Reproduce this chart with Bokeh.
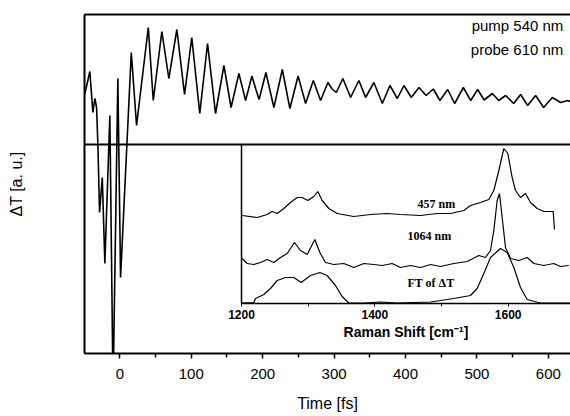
from bokeh.plotting import figure
from bokeh.layouts import column
from bokeh.models import Range1d, Span, Label, LinearAxis, FixedTicker
from bokeh.embed import file_html
from bokeh.resources import INLINE

# ---- main trace: transient transmission vs. delay ----
time_fs = [-49.5, -48.0, -42.0, -37.8, -35.0, -32.6, -30.8, -28.4, -24.6, -21.0, -14.0,
           -9.5, -2.8, 1.0, 16.0, 23.4, 39.8, 46.8, 58.8, 68.6, 79.8, 90.6, 100.7, 111.9,
           122.8, 134.0, 145.7, 155.7, 166.7, 176.1, 184.9, 190.1, 195.0, 204.5, 215.7,
           227.5, 238.1, 249.6, 260.1, 270.9, 281.1, 291.3, 297.2, 303.1, 312.3, 323.1,
           334.7, 344.1, 355.7, 367.5, 378.2, 388.5, 397.8, 408.1, 418.8, 428.9, 438.9,
           448.2, 459.0, 468.8, 481.0, 491.2, 501.0, 510.1, 521.6, 530.4, 540.2, 551.4,
           561.2, 571.0, 582.2, 593.4, 605.6, 617.2, 627.0, 631.2]
delta_t = [50, 54, 73, 32, 46, 37, 1, -68, -33, -119, 29,
           -246, 66, -133, 92, 19, 117, 44, 113, 66, 115, 50, 107, 31,
           101, 31, 79, 37, 71, 44, 68.5, 56, 45, 72, 37,
           75, 36, 68.5, 41, 64, 44, 62, 55.5, 52, 66, 47,
           64, 47, 62, 41, 59, 46, 59, 47, 57, 49, 55.5,
           44, 55, 41, 57, 44, 55, 44.5, 51, 44, 49, 41,
           50, 39, 49, 37, 47, 42, 44, 43]

time_ticks = [0, 100, 200, 300, 400, 500, 600]
time_minor = [-50, 50, 150, 250, 350, 450, 550]

# ---- inset: Raman spectra ----
w457 = [1201, 1223.5, 1238.5, 1246, 1253.5, 1263.5, 1273.5, 1283.5, 1291, 1299.5, 1308.5,
        1314.5, 1321, 1331, 1343.5, 1368.5, 1393.5, 1418.5, 1438.5, 1468.5, 1493.5, 1513.5,
        1533.5, 1543.5, 1558.5, 1571, 1578.5, 1586, 1593.5, 1599.5, 1606, 1611, 1618.5,
        1626, 1633.5, 1643.5, 1653.5, 1667.5, 1669.5]
v457 = [88, 86, 89, 92, 90, 95, 101, 106, 106, 103, 107,
        112, 103, 95, 90, 87, 89, 90, 89, 88, 90, 90,
        93, 98, 101, 104, 113, 133, 155, 150, 126, 113, 106,
        110, 101, 95, 92, 92, 74]

w1064 = [1201, 1208.5, 1218.5, 1228.5, 1238.5, 1248.5, 1258.5, 1268.5, 1279.5, 1288.5, 1298.5,
         1310, 1317.5, 1326, 1338.5, 1353.5, 1368.5, 1383.5, 1398.5, 1411, 1426, 1438.5,
         1453.5, 1468.5, 1483.5, 1498.5, 1518.5, 1538.5, 1556, 1566, 1573.5, 1578.5, 1583.5,
         1587, 1591, 1596, 1603.5, 1616, 1628.5, 1638.5, 1653.5, 1668.5, 1678.5, 1691]
v1064 = [45, 40, 39, 41, 44, 41, 46, 50, 61, 53, 49,
         64, 51, 41, 39, 40, 36, 40, 39, 38, 40, 36,
         38, 36, 39, 37, 40, 42, 48, 46, 53, 73, 103,
         110, 86, 56, 45, 43, 46, 40, 38, 40, 37, 38]

wft = [1201, 1218.5, 1221, 1233.5, 1243.5, 1253.5, 1266, 1278.5, 1289.5, 1303.5, 1317.5,
       1328.5, 1341, 1351, 1361, 1383.5, 1408.5, 1433.5, 1483.5, 1518.5, 1543.5, 1553.5,
       1563.5, 1573.5, 1588.5, 1598.5, 1608.5, 1618.5, 1628.5, 1648.5, 1693.5]
vft = [0.5, 1, 5, 9, 15, 23, 26, 26, 21, 28, 31,
       28, 18, 7, 0.5, 0.5, 1.5, 0.5, 1.5, 5, 8, 15,
       30, 46, 55, 51, 36, 16, 4, 0.5, 0.5]

raman_ticks = [1200, 1400, 1600]
raman_minor = [1300, 1500]

SANS = "Liberation Sans"
SERIF = "Liberation Serif"

# ---------------- main figure ----------------
p = figure(width=570, height=414, x_range=Range1d(-49.5, 631), y_range=Range1d(-209, 130),
           output_backend="svg", toolbar_location=None,
           min_border_left=84, min_border_right=0, min_border_top=14, min_border_bottom=61)
p.outline_line_color = None
p.grid.visible = False
p.background_fill_color = "white"

p.line(time_fs, delta_t, line_color="black", line_width=1.6)
p.add_layout(Span(location=0, dimension="width", line_color="black", line_width=2))

xa = p.xaxis[0]
xa.ticker = FixedTicker(ticks=time_ticks, minor_ticks=time_minor)
xa.axis_line_width = 2
xa.axis_line_color = "black"
xa.major_tick_in = 0
xa.major_tick_out = 5
xa.minor_tick_in = 0
xa.minor_tick_out = 4
xa.major_tick_line_width = 1.5
xa.minor_tick_line_width = 1.5
xa.major_tick_line_color = "black"
xa.minor_tick_line_color = "black"
xa.major_label_text_font = SANS
xa.major_label_text_font_size = "15px"
xa.major_label_text_color = "black"
xa.major_label_standoff = 10
xa.axis_label = "Time [fs]"
xa.axis_label_text_font = SANS
xa.axis_label_text_font_size = "16px"
xa.axis_label_text_font_style = "normal"
xa.axis_label_text_color = "black"
xa.axis_label_standoff = 13

ya = p.yaxis[0]
ya.ticker = FixedTicker(ticks=[])
ya.axis_line_width = 2
ya.axis_line_color = "black"
ya.major_tick_line_color = None
ya.minor_tick_line_color = None
ya.axis_label = "ΔT [a. u.]"
ya.axis_label_text_font = SANS
ya.axis_label_text_font_size = "16px"
ya.axis_label_text_font_style = "normal"
ya.axis_label_text_color = "black"
ya.axis_label_standoff = 60

top_axis = LinearAxis(ticker=FixedTicker(ticks=[]), axis_line_width=2, axis_line_color="black",
                      major_tick_line_color=None, minor_tick_line_color=None)
p.add_layout(top_axis, "above")

p.add_layout(Label(x=621, y=119, text="pump 540 nm", text_align="right", text_color="black",
                   text_baseline="middle", text_font=SANS, text_font_size="15px"))
p.add_layout(Label(x=621, y=95, text="probe 610 nm", text_align="right", text_color="black",
                   text_baseline="middle", text_font=SANS, text_font_size="15px"))

# ---------------- inset figure ----------------
pi = figure(width=413, height=201, x_range=Range1d(1200, 1693.5), y_range=Range1d(0, 159),
            output_backend="svg", toolbar_location=None,
            min_border_left=84, min_border_right=0, min_border_top=2, min_border_bottom=40)
pi.outline_line_color = None
pi.grid.visible = False
pi.background_fill_color = None
pi.border_fill_color = None

pi.line(w457, v457, line_color="black", line_width=1.2)
pi.line(w1064, v1064, line_color="black", line_width=1.2)
pi.line(wft, vft, line_color="black", line_width=1.2)

ixa = pi.xaxis[0]
ixa.ticker = FixedTicker(ticks=raman_ticks, minor_ticks=raman_minor)
ixa.axis_line_width = 1.5
ixa.axis_line_color = "black"
ixa.major_tick_in = 0
ixa.major_tick_out = 3
ixa.minor_tick_in = 0
ixa.minor_tick_out = 3
ixa.major_tick_line_color = "black"
ixa.minor_tick_line_color = "black"
ixa.major_label_text_font = SANS
ixa.major_label_text_font_style = "bold"
ixa.major_label_text_font_size = "12px"
ixa.major_label_text_color = "black"
ixa.major_label_standoff = 3
ixa.axis_label = "Raman Shift [cm⁻¹]"
ixa.axis_label_text_font = SANS
ixa.axis_label_text_font_style = "bold"
ixa.axis_label_text_font_size = "14px"
ixa.axis_label_text_color = "black"
ixa.axis_label_standoff = 2

iya = pi.yaxis[0]
iya.ticker = FixedTicker(ticks=[])
iya.axis_line_width = 1.5
iya.axis_line_color = "black"
iya.major_tick_line_color = None
iya.minor_tick_line_color = None

for txt, xx, yy in [("457 nm", 1464, 100), ("1064 nm", 1449, 68), ("FT of ΔT", 1449, 21)]:
    pi.add_layout(Label(x=xx, y=yy, text=txt, text_align="left", text_baseline="middle",
                        text_color="black", text_font=SERIF, text_font_style="bold",
                        text_font_size="12px"))

pi.styles = {"position": "absolute", "left": "157px", "top": "142px", "z-index": "2"}

layout = column(p, pi)
open("out.html", "w").write(file_html(layout, INLINE))
